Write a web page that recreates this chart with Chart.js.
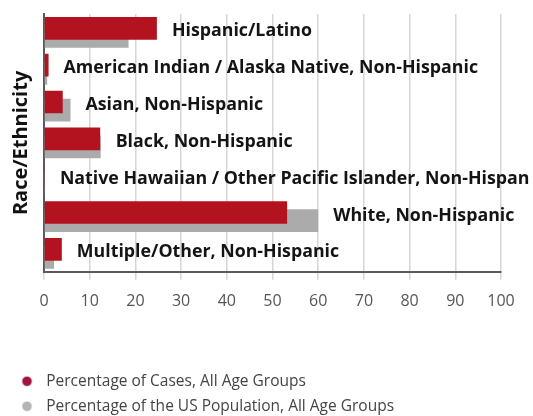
<!DOCTYPE html>
<html lang="en">
  <head>
    <meta charset="UTF-8" />
    <script src="https://cdn.jsdelivr.net/npm/chart.js@4.4.0/dist/chart.umd.min.js"></script>
    <title>Race/Ethnicity</title>
    <style>
      body {
        margin: 0;
        padding: 0;
        background: #fff;
      }

      .container {
        width: 533px;
        height: 416px;
      }
    </style>
  </head>
  <body>
    <div class="container">
      <canvas id="chart"></canvas>
    </div>
    <script>
      const categories = [
        'Hispanic/Latino',
        'American Indian / Alaska Native, Non-Hispanic',
        'Asian, Non-Hispanic',
        'Black, Non-Hispanic',
        'Native Hawaiian / Other Pacific Islander, Non-Hispanic',
        'White, Non-Hispanic',
        'Multiple/Other, Non-Hispanic',
      ]
      const casesPct = [24.7, 1.0, 4.1, 12.3, 0.2, 53.2, 3.9]
      const populationPct = [18.5, 0.7, 5.8, 12.4, 0.2, 60.0, 2.2]
      const xTicks = [0, 10, 20, 30, 40, 50, 60, 70, 80, 90, 100]

      const RED = '#b3131f'
      const GREY = '#ababab'

      // legend dot drawn into a small canvas so the gap to the text matches
      const makeDot = (color) => {
        const c = document.createElement('canvas')
        c.width = 20
        c.height = 11
        const g = c.getContext('2d')
        g.fillStyle = color
        g.beginPath()
        g.arc(8.5, 5.5, 4.8, 0, Math.PI * 2)
        g.fill()
        return c
      }

      const barLabels = {
        id: 'barLabels',
        afterDatasetsDraw(chart) {
          const { ctx } = chart
          const x = chart.scales.x
          const y = chart.scales.y
          ctx.save()
          ctx.beginPath()
          ctx.rect(0, 0, chart.width - 4, chart.height)
          ctx.clip()
          ctx.font = 'bold 17.8px "Open Sans"'
          ctx.fillStyle = '#141414'
          ctx.textBaseline = 'middle'
          categories.forEach((name, i) => {
            const end = Math.max(casesPct[i], populationPct[i])
            ctx.fillText(name, x.getPixelForValue(end) + 15, y.getPixelForValue(i) - 1)
          })
          ctx.restore()
        },
      }

      new Chart(document.getElementById('chart'), {
        type: 'bar',
        data: {
          labels: categories,
          datasets: [
            {
              label: 'Percentage of Cases, All Age Groups',
              data: casesPct,
              backgroundColor: RED,
              pointStyle: makeDot('#a3113d'),
            },
            {
              label: 'Percentage of the US Population, All Age Groups',
              data: populationPct,
              backgroundColor: GREY,
              pointStyle: makeDot('#b3b3b3'),
            },
          ],
        },
        options: {
          indexAxis: 'y',
          responsive: true,
          maintainAspectRatio: false,
          animation: false,
          categoryPercentage: 0.44,
          barPercentage: 2.8,
          layout: {
            padding: { left: 9, right: 32, top: 14, bottom: -8 },
          },
          plugins: {
            legend: {
              position: 'bottom',
              align: 'start',
              labels: {
                usePointStyle: true,
                pointStyleWidth: 20,
                padding: 9.5,
                color: '#444',
                font: { family: 'Open Sans', size: 15.5 },
              },
            },
            tooltip: { enabled: false },
          },
          scales: {
            x: {
              min: 0,
              max: 100,
              afterBuildTicks: (scale) => {
                scale.ticks = xTicks.map((v) => ({ value: v }))
              },
              afterFit: (scale) => {
                scale.height += 41
              },
              grid: {
                color: '#d6d6d6',
                lineWidth: 1.5,
                tickLength: 8,
              },
              border: { color: '#5a5a5a', width: 2 },
              ticks: {
                padding: 12,
                color: '#555',
                font: { family: 'Open Sans', size: 16 },
              },
            },
            y: {
              grid: { display: false, drawTicks: false },
              border: { color: '#5a5a5a', width: 2 },
              ticks: { display: false },
              title: {
                display: true,
                text: 'Race/Ethnicity',
                color: '#111',
                font: { family: 'Open Sans', size: 20, weight: 'bold' },
                padding: { top: 0, bottom: 11 },
              },
            },
          },
        },
        plugins: [barLabels],
      })
    </script>
  </body>
</html>
